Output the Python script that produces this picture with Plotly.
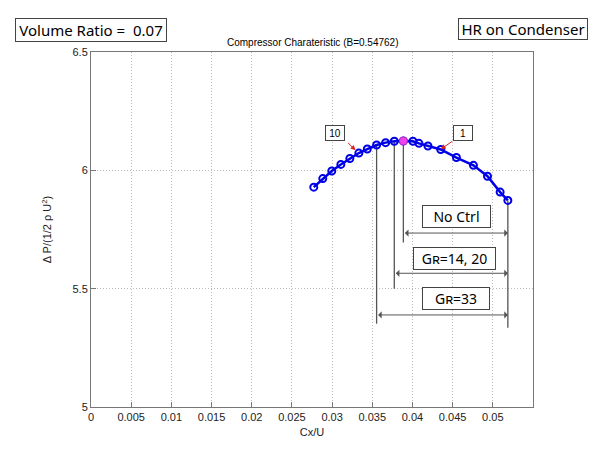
import plotly.graph_objects as go

# ---- data ----
cx = [0.02772, 0.02884, 0.02996, 0.03109, 0.03221, 0.03333, 0.03438, 0.03554,
      0.03666, 0.03774, 0.03887, 0.04006, 0.04081, 0.04193, 0.04352, 0.04547,
      0.04759, 0.04934, 0.05091, 0.05187]
dp = [5.929, 5.965, 5.997, 6.025, 6.050, 6.073, 6.090, 6.107,
      6.117, 6.123, 6.124, 6.123, 6.114, 6.103, 6.088, 6.054,
      6.021, 5.975, 5.908, 5.873]
peak_idx = 10

# vertical drop lines: (point index, bottom value)
drop_idx = [10, 9, 7, 19]
drop_bottom = [5.695, 5.500, 5.352, 5.335]

# range arrows
range_labels = ["No Ctrl", "G\u0280=14, 20", "G\u0280=33"]
range_start = [0.03887, 0.03774, 0.03554]
range_end = [0.05187, 0.05187, 0.05187]
range_y = [5.735, 5.565, 5.389]
label_x = [0.04545, 0.0452, 0.04539]
label_y = [5.805, 5.629, 5.458]
label_w = [65, 79, 64]

# numbered markers
num_labels = ["10", "1"]
num_x = [0.03042, 0.04632]
num_y = [6.159, 6.159]
num_tail = [(0.03180, 6.122), (0.04514, 6.127)]
num_head = [(0.03292, 6.085), (0.04352, 6.089)]

xticks = [0, 0.005, 0.01, 0.015, 0.02, 0.025, 0.03, 0.035, 0.04, 0.045, 0.05]
xticklabels = ["0", "0.005", "0.01", "0.015", "0.02", "0.025", "0.03", "0.035", "0.04", "0.045", "0.05"]
yticks = [5, 5.5, 6, 6.5]
yticklabels = ["5", "5.5", "6", "6.5"]

fig = go.Figure()

# drop lines
for i, b in zip(drop_idx, drop_bottom):
    fig.add_trace(go.Scatter(x=[cx[i], cx[i]], y=[dp[i], b], mode="lines",
                             line=dict(color="#555555", width=1.3),
                             showlegend=False, hoverinfo="skip"))

# main curve
fig.add_trace(go.Scatter(x=cx, y=dp, mode="lines+markers",
                         line=dict(color="#0000e6", width=2.5),
                         marker=dict(symbol="circle-open", size=7,
                                     line=dict(color="#0000e6", width=2)),
                         showlegend=False))
fig.add_trace(go.Scatter(x=[cx[peak_idx]], y=[dp[peak_idx]], mode="markers",
                         marker=dict(symbol="circle", size=8, color="#ee44ee",
                                     line=dict(color="#cc22cc", width=1)),
                         showlegend=False))

ann = []
# double arrows
for xs, xe, yy in zip(range_start, range_end, range_y):
    ann.append(dict(x=xe, y=yy, ax=xs, ay=yy, xref="x", yref="y", axref="x", ayref="y",
                    text="", showarrow=True, arrowhead=1, startarrowhead=1,
                    arrowside="end+start", arrowsize=1.2, startarrowsize=1.2,
                    arrowwidth=1, arrowcolor="#555555"))
for t, x, y, w in zip(range_labels, label_x, label_y, label_w):
    ann.append(dict(x=x, y=y, xref="x", yref="y", text=t, showarrow=False,
                    xanchor="center", yanchor="middle",
                    font=dict(family="Noto Sans", size=14, color="black"),
                    bordercolor="#444444", borderwidth=1, bgcolor="white",
                    width=w, height=19, borderpad=1))
for t, x, y, tl, hd in zip(num_labels, num_x, num_y, num_tail, num_head):
    ann.append(dict(x=x, y=y, xref="x", yref="y", text=t, showarrow=False,
                    xanchor="center", yanchor="middle",
                    font=dict(family="Liberation Sans", size=10, color="black"),
                    bordercolor="#444444", borderwidth=1, bgcolor="white",
                    width=16, height=12, borderpad=1))
    ann.append(dict(x=hd[0], y=hd[1], ax=tl[0], ay=tl[1], xref="x", yref="y",
                    axref="x", ayref="y", text="", showarrow=True, arrowhead=2,
                    arrowsize=1, arrowwidth=1, arrowcolor="#dd2222"))

# top boxes
ann.append(dict(x=0, y=1.062, xref="paper", yref="paper", text="Volume Ratio =  0.07",
                xanchor="center", yanchor="middle",
                showarrow=False, font=dict(family="Noto Sans", size=15, color="black"),
                bordercolor="#444444", borderwidth=1, bgcolor="white",
                width=148, height=20, borderpad=1))
ann.append(dict(x=0.977, y=1.065, xref="paper", yref="paper", text="HR on Condenser",
                xanchor="center", yanchor="middle",
                showarrow=False, font=dict(family="Noto Sans", size=15, color="black"),
                bordercolor="#444444", borderwidth=1, bgcolor="white",
                width=126, height=18, borderpad=1))
ann.append(dict(x=0.5, y=1.005, xref="paper", yref="paper", xanchor="center", yanchor="bottom",
                text="Compressor Charateristic (B=0.54762)", showarrow=False,
                font=dict(family="Liberation Sans", size=10, color="black")))

fig.update_layout(
    width=612, height=461,
    margin=dict(l=91, r=79, t=52, b=54),
    paper_bgcolor="white", plot_bgcolor="white",
    annotations=ann,
    font=dict(family="Liberation Sans", size=11, color="#222222"),
)
fig.update_xaxes(range=[0, 0.055], tickvals=xticks, ticktext=xticklabels,
                 showgrid=True, gridcolor="#bbbbbb", griddash="1px,2px", gridwidth=1,
                 showline=True, linecolor="#777777", linewidth=1, mirror=True,
                 ticks="inside", ticklen=5, tickcolor="#777777", zeroline=False,
                 title=dict(text="Cx/U", font=dict(size=11), standoff=6),
                 tickfont=dict(size=11))
fig.update_yaxes(range=[5, 6.5], tickvals=yticks, ticktext=yticklabels,
                 showgrid=True, gridcolor="#bbbbbb", griddash="1px,2px", gridwidth=1,
                 showline=True, linecolor="#777777", linewidth=1, mirror=True,
                 ticks="inside", ticklen=5, tickcolor="#777777", zeroline=False,
                 title=dict(text="\u0394 P/(1/2 \u03c1 U<sup>2</sup>)", font=dict(size=11), standoff=18),
                 tickfont=dict(size=11))

fig.write_html("out.html")
